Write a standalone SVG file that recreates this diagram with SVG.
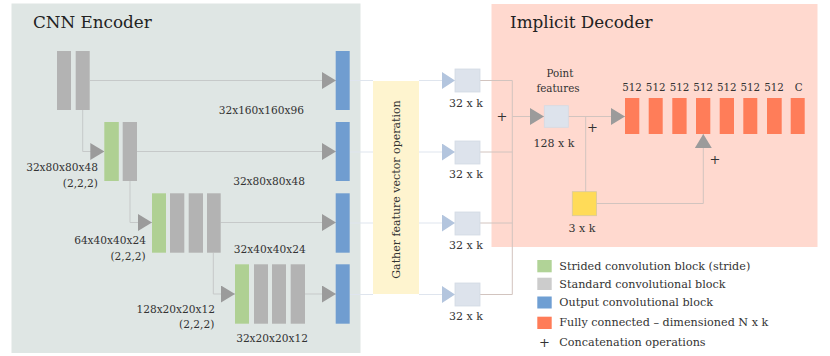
<svg xmlns="http://www.w3.org/2000/svg" width="830" height="356" viewBox="0 0 830 356">
<defs>
<style>
text{font-family:"DejaVu Serif","Liberation Serif",serif;fill:#333}
.title{font-size:16.8px;fill:#222}
.lbl{font-size:10.6px}
.k{font-size:11px}
.leg{font-size:11.2px}
.plus{font-size:13px}
.sm{font-size:10.3px}
.gray{fill:#b3b3b3}
.green{fill:#afd093}
.blue{fill:#709dd0}
.red{fill:#ff7d59}
.sq{fill:#dde3ec;stroke:#d3dae4;stroke-width:0.8}
.enc{fill:none;stroke:#c6c9c9;stroke-width:1}
.mid{fill:none;stroke:#dfe5ee;stroke-width:1}
.dec{fill:none;stroke:#d2c4bf;stroke-width:1}
</style>
<marker id="ag" viewBox="0 0 14 17" refX="14" refY="8.5" markerWidth="14" markerHeight="17" markerUnits="userSpaceOnUse" orient="auto">
<path d="M0,0 L14,8.5 L0,17 Z" fill="#9b9b9b"/>
</marker>
<marker id="ab" viewBox="0 0 13 17" refX="13" refY="8.5" markerWidth="13" markerHeight="17" markerUnits="userSpaceOnUse" orient="auto">
<path d="M0,0 L13,8.5 L0,17 Z" fill="#b3c5de"/>
</marker>
</defs>
<rect width="830" height="356" fill="#ffffff"/>

<g id="encoder-panel">
<rect x="11.5" y="3.5" width="349" height="349.5" fill="#dfe6e4"/>
<text class="title" x="33" y="27.5">CNN Encoder</text>
</g>
<g id="decoder-panel">
<rect x="491.5" y="4" width="326" height="243" fill="#ffd9cf"/>
<text class="title" x="510" y="27.5">Implicit Decoder</text>
</g>
<g id="gather">
<rect x="373" y="81" width="46" height="213" fill="#fef4cf"/>
<text class="k" transform="translate(400,189.5) rotate(-90)" text-anchor="middle">Gather feature vector operation</text>
</g>

<g id="connectors">
<path class="enc" d="M90,80.5 H336" marker-end="url(#ag)"/>
<path class="enc" d="M82.7,110 V151.5 H104.3" marker-end="url(#ag)"/>
<path class="enc" d="M137,151.5 H336" marker-end="url(#ag)"/>
<path class="enc" d="M130,181 V222.5 H152" marker-end="url(#ag)"/>
<path class="enc" d="M220.7,222.5 H336" marker-end="url(#ag)"/>
<path class="enc" d="M213.3,252.7 V294 H235" marker-end="url(#ag)"/>
<path class="enc" d="M305,294 H336" marker-end="url(#ag)"/>
<path class="mid" d="M350,80.5 H373 M419,80.5 H455" marker-end="url(#ab)"/>
<path class="mid" d="M350,152 H373 M419,152 H455" marker-end="url(#ab)"/>
<path class="mid" d="M350,223 H373 M419,223 H455" marker-end="url(#ab)"/>
<path class="mid" d="M350,294.5 H373 M419,294.5 H455" marker-end="url(#ab)"/>
<path class="dec" d="M480,80.5 H512.3 V294.5 M480,152 H512.3 M480,223 H512.3 M480,294.5 H512.3"/>
<path class="dec" d="M512.3,116.5 H544" marker-end="url(#ag)"/>
<path class="dec" d="M568,116.5 H625" marker-end="url(#ag)"/>
<path class="dec" d="M585.7,116.5 V192"/>
<path class="dec" d="M596.5,203.5 H703.3 V134" marker-end="url(#ag)"/>
<text class="plus" x="502" y="121" text-anchor="middle">+</text>
<text class="plus" x="592.5" y="131.5" text-anchor="middle">+</text>
<text class="plus" x="715" y="164" text-anchor="middle">+</text>
</g>

<g id="enc-row1">
<rect class="gray" x="57" y="51" width="14" height="59"/>
<rect class="gray" x="75.7" y="51" width="14" height="59"/>
</g>
<g id="enc-row2">
<rect class="green" x="104.3" y="122" width="14.5" height="59"/>
<rect class="gray" x="122.7" y="122" width="14.3" height="59"/>
<text class="lbl" x="98" y="171" text-anchor="end">32x80x80x48</text>
<text class="lbl" x="98" y="186.5" text-anchor="end">(2,2,2)</text>
</g>
<g id="enc-row3">
<rect class="green" x="152" y="193.3" width="14" height="59.4"/>
<rect class="gray" x="170" y="193.3" width="14.3" height="59.4"/>
<rect class="gray" x="188.7" y="193.3" width="14.3" height="59.4"/>
<rect class="gray" x="207" y="193.3" width="13.7" height="59.4"/>
<text class="lbl" x="146" y="244.3" text-anchor="end">64x40x40x24</text>
<text class="lbl" x="145.7" y="259.8" text-anchor="end">(2,2,2)</text>
</g>
<g id="enc-row4">
<rect class="green" x="235" y="264.3" width="14" height="59.4"/>
<rect class="gray" x="254" y="264.3" width="14" height="59.4"/>
<rect class="gray" x="272" y="264.3" width="14" height="59.4"/>
<rect class="gray" x="290.7" y="264.3" width="14.3" height="59.4"/>
<text class="lbl" x="215" y="312.7" text-anchor="end">128x20x20x12</text>
<text class="lbl" x="214.3" y="328.3" text-anchor="end">(2,2,2)</text>
</g>
<g id="out1">
<rect class="blue" x="335.7" y="51" width="14" height="59"/>
<text class="lbl" x="304" y="114.3" text-anchor="end">32x160x160x96</text>
</g>
<g id="out2">
<rect class="blue" x="335.7" y="122" width="14" height="59"/>
<text class="lbl" x="305" y="185" text-anchor="end">32x80x80x48</text>
</g>
<g id="out3">
<rect class="blue" x="335.7" y="193.3" width="14" height="59.4"/>
<text class="lbl" x="305.7" y="253.3" text-anchor="end">32x40x40x24</text>
</g>
<g id="out4">
<rect class="blue" x="335.7" y="264.3" width="14" height="59.4"/>
<text class="lbl" x="308" y="341.7" text-anchor="end">32x20x20x12</text>
</g>

<g id="feat1">
<rect class="sq" x="455" y="69" width="25" height="23"/>
<text class="k" x="466" y="106.7" text-anchor="middle">32 x k</text>
</g>
<g id="feat2">
<rect class="sq" x="455" y="141" width="25" height="23"/>
<text class="k" x="466" y="177.5" text-anchor="middle">32 x k</text>
</g>
<g id="feat3">
<rect class="sq" x="455" y="212" width="25" height="23"/>
<text class="k" x="466" y="248.5" text-anchor="middle">32 x k</text>
</g>
<g id="feat4">
<rect class="sq" x="455" y="283" width="25" height="23"/>
<text class="k" x="466" y="319.5" text-anchor="middle">32 x k</text>
</g>

<g id="point-features">
<rect class="sq" x="544.3" y="105.7" width="24" height="21.6"/>
<text class="sm" x="560" y="77.3" text-anchor="middle">Point</text>
<text class="sm" x="558" y="92.3" text-anchor="middle">features</text>
<text class="k" x="554" y="146.7" text-anchor="middle">128 x k</text>
</g>
<g id="coords">
<rect x="572.3" y="191.7" width="24.3" height="24" fill="#ffdb58" stroke="#d8c8a0" stroke-width="0.8"/>
<text class="k" x="582" y="232.3" text-anchor="middle">3 x k</text>
</g>
<g id="fc-layers">
<rect class="red" x="625" y="98" width="14.3" height="36"/>
<rect class="red" x="648.7" y="98" width="14" height="36"/>
<rect class="red" x="672.3" y="98" width="14.3" height="36"/>
<rect class="red" x="696" y="98" width="14.3" height="36"/>
<rect class="red" x="719.7" y="98" width="14.3" height="36"/>
<rect class="red" x="743.3" y="98" width="14" height="36"/>
<rect class="red" x="767" y="98" width="14.7" height="36"/>
<rect class="red" x="790.7" y="98" width="14" height="36"/>
<g class="sm" text-anchor="middle">
<text x="632" y="90.7">512</text>
<text x="655.7" y="90.7">512</text>
<text x="679.5" y="90.7">512</text>
<text x="703.2" y="90.7">512</text>
<text x="726.8" y="90.7">512</text>
<text x="750.3" y="90.7">512</text>
<text x="774" y="90.7">512</text>
<text x="798.7" y="90.7">C</text>
</g>
</g>

<g id="legend">
<rect x="537.3" y="260" width="14.4" height="12.3" fill="#b1d397"/>
<rect x="537.3" y="277.7" width="14.4" height="12.3" fill="#cccccc"/>
<rect x="537.3" y="296.5" width="14.4" height="12" fill="#6f9fd3"/>
<rect x="537.3" y="316.7" width="14.4" height="12.3" fill="#ff7c58"/>
<text class="plus" x="544.5" y="347" text-anchor="middle">+</text>
<text class="leg" x="559.3" y="270">Strided convolution block (stride)</text>
<text class="leg" x="559.3" y="287.7">Standard convolutional block</text>
<text class="leg" x="559.3" y="306">Output convolutional block</text>
<text class="leg" x="559.3" y="326">Fully connected – dimensioned N x k</text>
<text class="leg" x="559.3" y="346">Concatenation operations</text>
</g>
</svg>
